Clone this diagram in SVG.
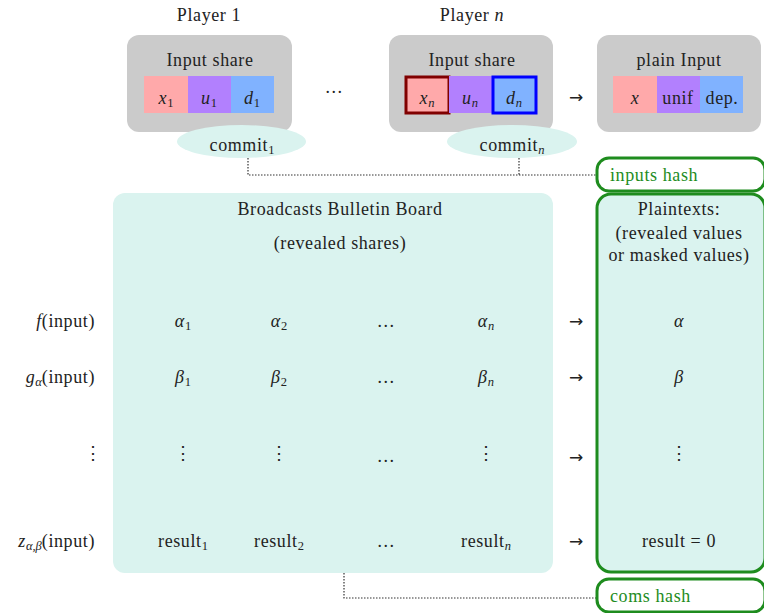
<svg xmlns="http://www.w3.org/2000/svg" width="764" height="613" viewBox="0 0 764 613">
<style>
text{font-family:"Liberation Serif","DejaVu Serif",serif;font-size:18px;letter-spacing:0.6px;fill:#222;text-anchor:middle}
.it{font-style:italic}
.sub{font-size:12.5px;letter-spacing:0}
.ar{font-family:"DejaVu Sans",sans-serif;font-size:17px;letter-spacing:0}
.g{fill:#1e8c1e;text-anchor:start}
.card{fill:#cbcbcb}
.pk{fill:#ffa9aa}
.pu{fill:#b280fe}
.bl{fill:#80b2ff}
.teal{fill:#daf3ef}
.hash{fill:#fff;stroke:#1e8c1e;stroke-width:3}
.conn{fill:none;stroke:#333;stroke-width:1.2;stroke-dasharray:1.5 1.5}
</style>
<g id="connectors">
<path class="conn" d="M248,158 V175 H596 M519,158 V175"/>
<path class="conn" d="M344,573 V598 H596"/>
</g>
<g id="player1">
<text x="209" y="21">Player 1</text>
<rect class="card" x="127" y="35" width="165" height="97" rx="12"/>
<text x="210" y="66">Input share</text>
<rect class="pk" x="144" y="76" width="44" height="37"/>
<rect class="pu" x="188" y="76" width="43" height="37"/>
<rect class="bl" x="231" y="76" width="43" height="37"/>
<text x="166" y="104"><tspan class="it">x</tspan><tspan class="sub" dy="3">1</tspan></text>
<text x="209" y="104"><tspan class="it">u</tspan><tspan class="sub" dy="3">1</tspan></text>
<text x="252" y="104"><tspan class="it">d</tspan><tspan class="sub" dy="3">1</tspan></text>
</g>
<g id="commit1">
<ellipse class="teal" cx="241.5" cy="141.5" rx="64.5" ry="16.5"/>
<text x="242" y="151">commit<tspan class="sub" dy="3">1</tspan></text>
</g>
<g id="dots-top"><text x="334" y="93">…</text></g>
<g id="playern">
<text x="472" y="21">Player <tspan class="it">n</tspan></text>
<rect class="card" x="389" y="35" width="164" height="97" rx="12"/>
<text x="472" y="66">Input share</text>
<rect class="pk" x="406" y="77" width="43" height="36" stroke="#800000" stroke-width="3"/>
<rect class="pu" x="449" y="76" width="43" height="37"/>
<rect class="bl" x="493" y="77" width="43" height="36" stroke="#0000ff" stroke-width="3"/>
<text x="427" y="104"><tspan class="it">x</tspan><tspan class="sub it" dy="3">n</tspan></text>
<text x="470" y="104"><tspan class="it">u</tspan><tspan class="sub it" dy="3">n</tspan></text>
<text x="514" y="104"><tspan class="it">d</tspan><tspan class="sub it" dy="3">n</tspan></text>
</g>
<g id="commitn">
<ellipse class="teal" cx="512" cy="141.5" rx="65" ry="16.5"/>
<text x="512" y="151">commit<tspan class="sub it" dy="3">n</tspan></text>
</g>
<g id="arrow-top"><text class="ar" x="576" y="103">→</text></g>
<g id="plain">
<rect class="card" x="597" y="35" width="164" height="97" rx="12"/>
<text x="679" y="66">plain Input</text>
<rect class="pk" x="613" y="76" width="44" height="37"/>
<rect class="pu" x="657" y="76" width="43" height="37"/>
<rect class="bl" x="700" y="76" width="43" height="37"/>
<text x="635" y="104" class="it">x</text>
<text x="678" y="104">unif</text>
<text x="722" y="104">dep.</text>
</g>
<g id="inputs-hash">
<rect class="hash" x="597" y="158" width="168" height="33" rx="12"/>
<text class="g" x="610" y="181">inputs hash</text>
</g>
<g id="board">
<rect class="teal" x="113" y="193" width="440" height="380" rx="12"/>
<text x="340" y="215">Broadcasts Bulletin Board</text>
<text x="340" y="249">(revealed shares)</text>
</g>
<g id="plaintexts">
<rect class="teal" x="597" y="194" width="168" height="378" rx="14" stroke="#1e8c1e" stroke-width="3"/>
<text x="679" y="215">Plaintexts:</text>
<text x="679" y="239">(revealed values</text>
<text x="679" y="261">or masked values)</text>
</g>
<g id="rows">
<text x="95" y="327" style="text-anchor:end"><tspan class="it">f</tspan>(input)</text>
<text x="183" y="327"><tspan class="it">α</tspan><tspan class="sub" dy="3">1</tspan></text>
<text x="279" y="327"><tspan class="it">α</tspan><tspan class="sub" dy="3">2</tspan></text>
<text x="386" y="327">…</text>
<text x="486" y="327"><tspan class="it">α</tspan><tspan class="sub it" dy="3">n</tspan></text>
<text class="ar" x="576" y="327">→</text>
<text x="679" y="327" class="it">α</text>

<text x="95" y="383" style="text-anchor:end"><tspan class="it">g</tspan><tspan class="sub it" dy="3">α</tspan><tspan dy="-3">(input)</tspan></text>
<text x="183" y="383"><tspan class="it">β</tspan><tspan class="sub" dy="3">1</tspan></text>
<text x="279" y="383"><tspan class="it">β</tspan><tspan class="sub" dy="3">2</tspan></text>
<text x="386" y="383">…</text>
<text x="486" y="383"><tspan class="it">β</tspan><tspan class="sub it" dy="3">n</tspan></text>
<text class="ar" x="576" y="383">→</text>
<text x="679" y="383" class="it">β</text>

<text x="93" y="459">⋮</text>
<text x="183" y="459">⋮</text>
<text x="279" y="459">⋮</text>
<text x="386" y="462">…</text>
<text x="486" y="459">⋮</text>
<text class="ar" x="576" y="463">→</text>
<text x="679" y="459">⋮</text>

<text x="95" y="547" style="text-anchor:end"><tspan class="it">z</tspan><tspan class="sub it" dy="3">α,β</tspan><tspan dy="-3">(input)</tspan></text>
<text x="183" y="547">result<tspan class="sub" dy="3">1</tspan></text>
<text x="279" y="547">result<tspan class="sub" dy="3">2</tspan></text>
<text x="386" y="547">…</text>
<text x="486" y="547">result<tspan class="sub it" dy="3">n</tspan></text>
<text class="ar" x="576" y="547">→</text>
<text x="679" y="547">result = 0</text>
</g>
<g id="coms-hash">
<rect class="hash" x="597" y="579" width="168" height="33" rx="12"/>
<text class="g" x="610" y="602">coms hash</text>
</g>
</svg>
